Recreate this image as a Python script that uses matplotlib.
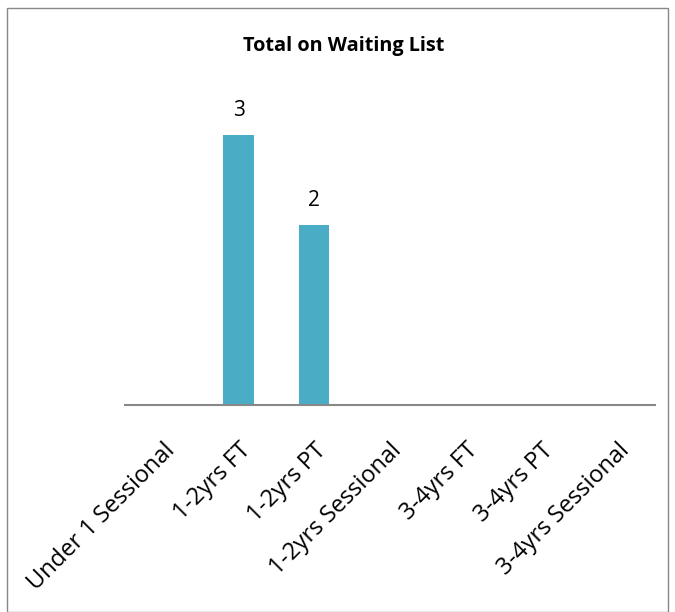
import matplotlib.pyplot as plt
from matplotlib.patches import Rectangle

# chart data
categories = ["Under 1 Sessional", "1-2yrs FT", "1-2yrs PT", "1-2yrs Sessional",
              "3-4yrs FT", "3-4yrs PT", "3-4yrs Sessional"]
values = [0, 3, 2, 0, 0, 0, 0]
title = "Total on Waiting List"

plt.rcParams["font.family"] = ["Open Sans", "DejaVu Sans"]

fig = plt.figure(figsize=(6.75, 6.12), dpi=100)
W, H = 675, 612

# axes placed in pixel terms
left, right, bottom, top = 125, 655, 405, 90
ax = fig.add_axes([left / W, 1 - bottom / H, (right - left) / W, (bottom - top) / H])

x = range(len(categories))
bars = ax.bar(x, values, width=0.4, color="#4BACC6")
for b, v in zip(bars, values):
    if v > 0:
        ax.text(b.get_x() + b.get_width() / 2, v + 0.15, str(v),
                ha="center", va="bottom", fontsize=15)

ax.set_xlim(-0.5, len(categories) - 0.5)
ax.set_ylim(0, 3.5)
ax.set_yticks([])
for s in ["top", "right", "left"]:
    ax.spines[s].set_visible(False)
ax.spines["bottom"].set_color("#888888")
ax.spines["bottom"].set_linewidth(1.5)
ax.set_xticks(list(x))
ax.set_xticklabels(categories, rotation=45, ha="right", rotation_mode="anchor", fontsize=17)
ax.tick_params(axis="x", length=0, pad=24)

fig.text(344 / W, 1 - 46 / H, title, ha="center", va="center",
         fontsize=14.3, fontweight="bold")

# outer border
fig.patches.append(Rectangle((7 / W, 0), (668 - 7) / W, 1 - 8 / H, transform=fig.transFigure,
                             fill=False, edgecolor="#888888", linewidth=1))

fig.savefig("out.png", dpi=100)
